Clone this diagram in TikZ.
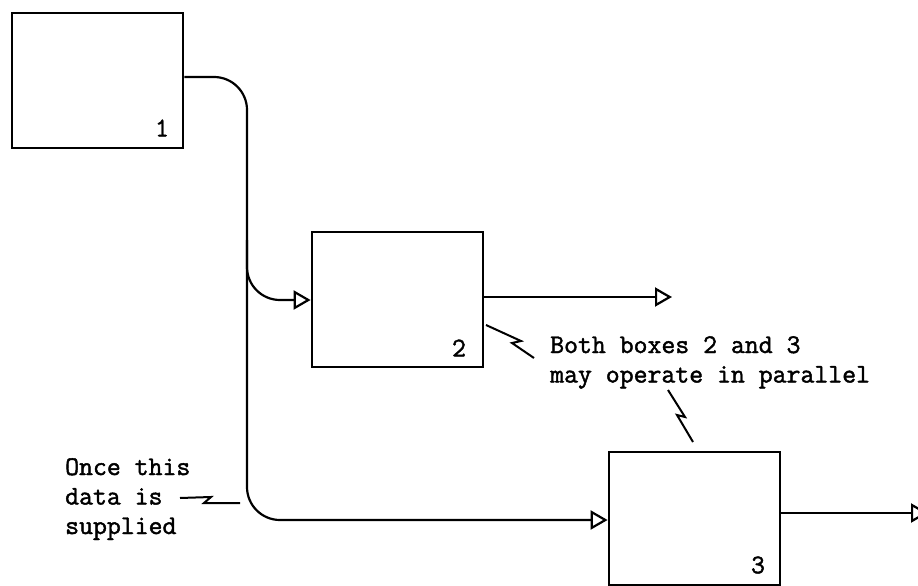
\documentclass[tikz,border=0pt]{standalone}
\usepackage{fontspec}
\newfontfamily\notefont{Latin Modern Mono}[FakeBold=1.6]
\usetikzlibrary{arrows.meta}
\begin{document}
\begin{tikzpicture}[x=1pt,y=-1pt,
  blk/.style={draw, line width=2.8pt, minimum width=171pt, minimum height=135pt, inner sep=0pt},
  flow/.style={line width=2.2pt, rounded corners=33pt},
  tip/.style={-{Triangle[open,length=17pt,width=19pt,line width=2.2pt]}},
  note/.style={font=\notefont\fontsize{27}{29.5}\selectfont, align=left, anchor=north west, inner sep=0pt},
  zig/.style={line width=2pt},
  num/.style={font=\notefont\fontsize{27}{27}\selectfont, inner sep=0pt}]
\clip (0,0) rectangle (918,586);
\useasboundingbox (0,0) rectangle (918,586);
\fill[white] (0,0) rectangle (918,586);
% boxes
\node[blk] (b1) at (97.5,80.5) {};
\node[blk] (b2) at (397.5,299.5) {};
\node[blk, minimum height=133pt] (b3) at (694.5,518.5) {};
\node[num] (n1) at (162,128) {1};
\node[num] (n2) at (459,348) {2};
\node[num] (n3) at (758,565) {3};
% notes
\node[note] (t1) at (65,458) {Once this\\data is\\supplied};
\node[note] (t2) at (550,336) {Both boxes 2 and 3\\may operate in parallel};
% connectors
\coordinate (j1) at (247,77);
\coordinate (j3) at (247,520);
\coordinate (fork) at (247,240);
\coordinate (j2) at (247,300);
\coordinate (o2) at (672,297);
\coordinate (o3) at (928,513);
\draw[flow, tip] (b1.east |- j1) -- (j1) -- (j3) -- (b3.west |- j3);
\draw[flow, tip] (fork) -- (j2) -- (b2.west |- j2);
\draw[line width=2.2pt, tip] (b2.east |- o2) -- (o2);
\draw[line width=2.2pt, tip] (b3.east |- o3) -- (o3);
% pointer marks
\coordinate (z1a) at (180,498);
\coordinate (z1b) at (240,503);
\draw[zig] (z1a) -- (211,497) -- (204,503) -- (z1b);
\coordinate (z2a) at (486,325);
\coordinate (z2b) at (534,358);
\draw[zig] (z2a) -- (521,341) -- (512,343) -- (z2b);
\coordinate (z3a) at (668,390);
\coordinate (z3b) at (693,442);
\draw[zig] (z3a) -- (685,417) -- (677,415) -- (z3b);
\end{tikzpicture}
\end{document}
